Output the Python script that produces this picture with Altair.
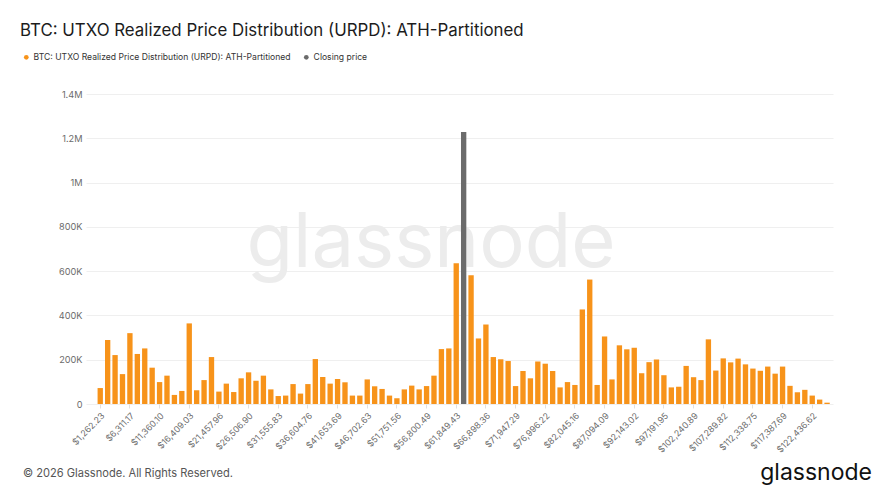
import altair as alt
import pandas as pd

TITLE = "BTC: UTXO Realized Price Distribution (URPD): ATH-Partitioned"
SERIES = [TITLE, "Closing price"]

# supply per price bin (in thousands of BTC), bins 1..99; bin 50 holds the closing price
urpd_k = [72, 289, 221, 135, 320, 226, 251, 164, 99, 128,
          41, 59, 364, 62, 108, 212, 56, 92, 54, 116,
          143, 105, 128, 66, 36, 38, 90, 47, 90, 203,
          122, 92, 113, 98, 38, 38, 111, 80, 68, 38,
          26, 66, 83, 66, 81, 128, 248, 251, 636, None,
          582, 296, 359, 212, 202, 194, 81, 149, 116, 192,
          182, 149, 75, 99, 86, 427, 562, 86, 305, 111,
          265, 247, 254, 139, 189, 201, 130, 75, 78, 172,
          121, 108, 292, 151, 206, 188, 205, 179, 160, 150,
          169, 137, 169, 82, 53, 64, 38, 20, 6]
closing_bin = 50
closing_value_k = 1228

tick_labels = ["$1,262.23", "$6,311.17", "$11,360.10", "$16,409.03", "$21,457.96",
               "$26,506.90", "$31,555.83", "$36,604.76", "$41,653.69", "$46,702.63",
               "$51,751.56", "$56,800.49", "$61,849.43", "$66,898.36", "$71,947.29",
               "$76,996.22", "$82,045.16", "$87,094.09", "$92,143.02", "$97,191.95",
               "$102,240.89", "$107,289.82", "$112,338.75", "$117,387.69", "$122,436.62"]

rows = []
for i, v in enumerate(urpd_k):
    b = i + 1
    if b == closing_bin:
        rows.append({"bin": b, "value": closing_value_k * 1000, "series": SERIES[1]})
    elif v is not None:
        rows.append({"bin": b, "value": v * 1000, "series": SERIES[0]})
df = pd.DataFrame(rows)

bins_all = list(range(1, len(urpd_k) + 1))
tick_bins = [1 + 4 * i for i in range(len(tick_labels))]
label_arr = "[" + ",".join("'" + t + "'" for t in tick_labels) + "]"

FONT = "Inter"

bars = alt.Chart(df).mark_bar().encode(
    x=alt.X("bin:O", sort=bins_all, title=None,
            scale=alt.Scale(domain=bins_all, paddingInner=0.28, paddingOuter=1, align=0.78),
            axis=alt.Axis(values=tick_bins,
                          labelExpr=label_arr + "[floor((datum.value-1)/4)]",
                          labelAngle=315, labelFontSize=8.8, labelColor="#6b6b6b",
                          labelFont=FONT, labelPadding=3, domain=False,
                          ticks=True, tickSize=4, tickColor="#e0e0e0", grid=False)),
    y=alt.Y("value:Q", title=None,
            scale=alt.Scale(domain=[0, 1400000], nice=False),
            axis=alt.Axis(values=[0, 200000, 400000, 600000, 800000, 1000000, 1200000, 1400000],
                          labelExpr="datum.value == 0 ? '0' : (datum.value >= 1000000 ? format(datum.value/1000000, '~g') + 'M' : format(datum.value/1000, 'd') + 'K')",
                          labelFontSize=9.2, labelColor="#6b6b6b", labelFont=FONT,
                          labelPadding=4, domain=False, ticks=False,
                          grid=True, gridColor="#efefef", gridWidth=1)),
    color=alt.Color("series:N", scale=alt.Scale(domain=SERIES, range=["#f7931a", "#6b6b6b"]),
                    legend=alt.Legend(title=None, orient="none", legendX=-64, legendY=-41,
                                      direction="horizontal", symbolType="circle", symbolSize=22,
                                      symbolStrokeWidth=0, labelFontSize=8.6, labelColor="#333333",
                                      labelFont=FONT, columnPadding=11, labelLimit=400,
                                      symbolOffset=0, labelOffset=3)),
)

def txt(s, x, y, size, color, align="left", weight="normal"):
    return alt.Chart(pd.DataFrame({"t": [s]})).mark_text(
        align=align, baseline="middle", fontSize=size, color=color, font=FONT, fontWeight=weight
    ).encode(text="t:N", x=alt.value(x), y=alt.value(y))

watermark = txt("glassnode", 345, 150, 76, "#ececec", align="center", weight="normal")
title = txt(TITLE, -66, -63, 16.85, "#1c1c1c")
footer = txt("\u00a9 2026 Glassnode. All Rights Reserved.", -63, 380, 11.1, "#555555")
logo = txt("glassnode", 786, 379, 23, "#111111", align="right", weight="normal")

chart = alt.layer(watermark, bars, title, footer, logo).properties(
    width=747, height=310,
    background="white",
    autosize=alt.AutoSizeParams(type="none"),
    padding={"left": 78, "top": 86, "right": 51, "bottom": 89},
).configure_view(stroke=None)

chart.save("out.html", embed_options={"renderer": "svg", "actions": False})
